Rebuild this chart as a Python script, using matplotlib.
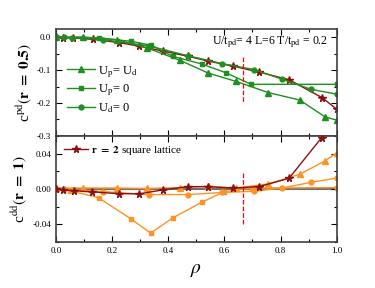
import matplotlib
matplotlib.use("Agg")
import matplotlib.pyplot as plt
from matplotlib.ticker import MultipleLocator, FormatStrFormatter

plt.rcParams['font.family'] = ['Liberation Serif', 'DejaVu Serif']
plt.rcParams['mathtext.fontset'] = 'stix'

# ---- top panel: c^pd(r = 0.5) ----
rho_tri = [0.0, 0.097, 0.216, 0.323, 0.442, 0.543, 0.641, 0.756, 0.869, 0.958, 1.0]
cpd_tri = [0.0, 0.001, -0.007, -0.032, -0.070, -0.109, -0.134, -0.168, -0.191, -0.242, -0.252]

rho_sq = [0.0, 0.152, 0.266, 0.34, 0.416, 0.519, 0.606, 0.695, 1.0]
cpd_sq = [0.0, -0.002, -0.012, -0.024, -0.058, -0.081, -0.108, -0.143, -0.143]

rho_ci = [0.0, 0.028, 0.056, 0.169, 0.33, 0.47, 0.592, 0.705, 0.804, 0.908, 1.0]
cpd_ci = [0.0, 0.0, -0.001, -0.007, -0.026, -0.056, -0.080, -0.098, -0.127, -0.158, -0.173]

rho_st = [0.0, 0.026, 0.062, 0.131, 0.224, 0.297, 0.382, 0.472, 0.541, 0.632, 0.724, 0.830, 0.949, 1.0]
cpd_st = [0.001, -0.001, -0.002, -0.006, -0.016, -0.027, -0.042, -0.058, -0.072, -0.088, -0.106, -0.129, -0.184, -0.219]

# ---- bottom panel: c^dd(r = 1) ----
cdd_tri = [0.001, 0.001, 0.001, 0.0005, 0.0015, 0.003, 0.001, 0.0056, 0.0168, 0.0317, 0.041]
rho_sq_b = [0.0, 0.05, 0.152, 0.266, 0.337, 0.418, 0.52, 0.60, 0.70, 1.0]
cdd_sq = [0.0, -0.002, -0.010, -0.0336, -0.050, -0.0325, -0.015, -0.003, 0.001, 0.0015]
cdd_ci = [0.0, 0.0, -0.001, -0.003, -0.0064, -0.0064, -0.004, -0.0027, 0.001, 0.0074, 0.0123]
rho_st_b = [0.0, 0.026, 0.064, 0.13, 0.224, 0.297, 0.382, 0.47, 0.54, 0.632, 0.723, 0.83, 0.946, 1.0]
cdd_st = [0.0, -0.001, -0.002, -0.0034, -0.0053, -0.0056, -0.001, 0.0026, 0.0026, 0.001, 0.0026, 0.012, 0.058, 0.085]

rho_c = 0.667  # dashed marker line

green = '#1f8f1f'
dred = '#8b1010'
orange = '#ff9224'

fig = plt.figure(figsize=(3.75, 2.88), dpi=100)
ax1 = fig.add_axes([0.149, 0.528, 0.749, 0.371])
ax2 = fig.add_axes([0.149, 0.160, 0.749, 0.368])

ax1.plot(rho_st, cpd_st, '-*', color=dred, ms=5.5, lw=1)
ax1.plot(rho_tri, cpd_tri, '-^', color=green, ms=4, lw=1, label=r'U$_{\rm p}$= U$_{\rm d}$')
ax1.plot(rho_sq, cpd_sq, '-s', color=green, ms=3.5, lw=1, label=r'U$_{\rm p}$= 0')
ax1.plot(rho_ci, cpd_ci, '-o', color=green, ms=3.5, lw=1, label=r'U$_{\rm d}$= 0')
ax1.plot([rho_c, rho_c], [-0.06, -0.197], '--', color='red', lw=0.9)
ax1.set_xlim(0, 1)
ax1.set_ylim(-0.3, 0.025)
ax1.yaxis.set_major_locator(MultipleLocator(0.1))
ax1.yaxis.set_minor_locator(MultipleLocator(0.05))
ax1.yaxis.set_major_formatter(FormatStrFormatter('%.1f'))
ax1.tick_params(labelbottom=False)
ax1.set_ylabel(r'c$^{\rm pd}$$(\mathbf{r\ =\ 0.5})$', fontsize=11, labelpad=2)
ax1.legend(loc='upper left', bbox_to_anchor=(0.0, 0.78), frameon=False,
           fontsize=9, handlelength=2.2, handletextpad=0.3, labelspacing=0.25)
ax1.text(0.97, 0.88, r'U/t$_{\rm pd}$= 4 L=6 T/t$_{\rm pd}$ = 0.2', transform=ax1.transAxes,
         ha='right', va='center', fontsize=8.5)

ax2.axhline(0, color='#707070', lw=1.5, zorder=1)
ax2.plot(rho_st_b, cdd_st, '-*', color=dred, ms=5.5, lw=1, label=r'$\mathbf{r\ =\ 2}$ square lattice', zorder=3)
ax2.plot(rho_tri, cdd_tri, '-^', color=orange, ms=4, lw=1, zorder=2)
ax2.plot(rho_sq_b, cdd_sq, '-s', color=orange, ms=3.5, lw=1, zorder=2)
ax2.plot(rho_ci, cdd_ci, '-o', color=orange, ms=3.5, lw=1, zorder=2)
ax2.plot([rho_c, rho_c], [0.018, -0.04], '--', color='red', lw=0.9)
ax2.set_xlim(0, 1)
ax2.set_ylim(-0.06, 0.06)
ax2.yaxis.set_major_locator(MultipleLocator(0.04))
ax2.yaxis.set_minor_locator(MultipleLocator(0.02))
ax2.yaxis.set_major_formatter(FormatStrFormatter('%.2f'))
ax2.xaxis.set_major_formatter(FormatStrFormatter('%.1f'))
ax2.set_ylabel(r'c$^{\rm dd}$$(\mathbf{r\ =\ 1})$', fontsize=11, labelpad=2)
ax2.set_xlabel(r'$\rho$', fontsize=14, family='DejaVu Sans', labelpad=4)
ax2.legend(loc='upper left', frameon=False, fontsize=8, handlelength=2.2,
           handletextpad=0.3, borderaxespad=0.3)

for ax in (ax1, ax2):
    ax.xaxis.set_major_locator(MultipleLocator(0.2))
    ax.xaxis.set_minor_locator(MultipleLocator(0.1))
    ax.tick_params(which='both', direction='in', top=True, right=True, labelsize=6.5, width=0.8)
    ax.tick_params(which='major', length=4)
    ax.tick_params(which='minor', length=2)
    for s in ax.spines.values():
        s.set_linewidth(1.2)
        s.set_color('#404040')

fig.savefig('out.png', dpi=100)
